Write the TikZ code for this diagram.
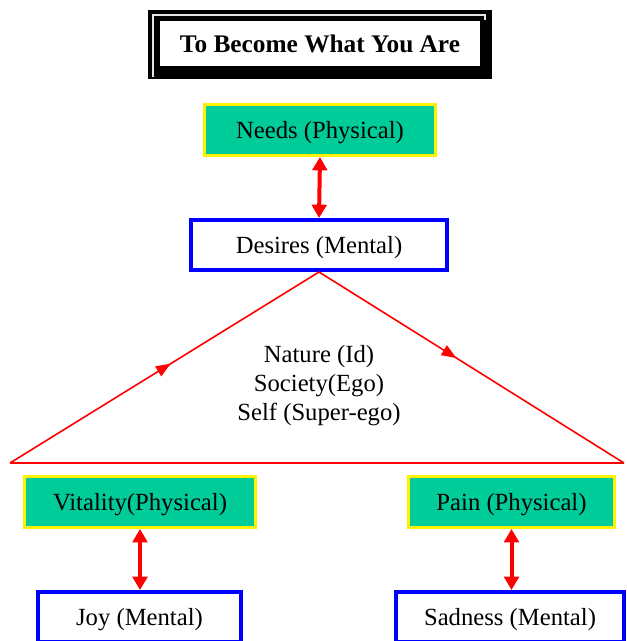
\documentclass[tikz,border=0pt]{standalone}
\usepackage{fontspec}
\setmainfont{Liberation Serif}
\usetikzlibrary{arrows.meta,decorations.markings}
\definecolor{teal1}{RGB}{0,204,153}
\begin{document}
\begin{tikzpicture}[x=0.75pt,y=-0.75pt,
  txt/.style={font=\fontsize{18.5}{22}\selectfont, inner sep=0pt},
  phys/.style={txt, text depth=0pt, draw=yellow, fill=teal1, line width=2.25pt, minimum height=38.25pt},
  ment/.style={txt, text depth=0pt, draw=blue, fill=white, line width=3pt, minimum height=37.5pt},
  dbl/.style={draw=red, line width=3pt, {Triangle[width=11pt,length=10pt]}-{Triangle[width=11pt,length=10pt]}},
  tri/.style={draw=red, line width=1.2pt},
  midarrow/.style={postaction={decorate},decoration={markings,mark=at position #1 with {\arrow{Triangle[width=8.5pt,length=11pt]}}}}
]
\useasboundingbox (0,0) rectangle (626,641);
\clip (0,0) rectangle (626,641);
% title frame
\fill[black] (148,10) rectangle (492,79);
\fill[white] (160,21) rectangle (480,66);
\draw[white!80!gray, line width=0.9pt] (153,77) -- (153,15) -- (485,15) -- (485,20);
\node[font=\bfseries\fontsize{19}{22}\selectfont, inner sep=0pt, text depth=0pt] (title) at (320,44) {To Become What You Are};
% top boxes
\node[phys, minimum width=173.25pt] (needs) at (320,130) {Needs (Physical)};
\node[ment, minimum width=192pt] (desires) at (319,245) {Desires (Mental)};
\draw[dbl] (needs.south) -- (desires.north);
% triangle
\coordinate (apex) at (desires.south);
\coordinate (bl) at (10,463);
\coordinate (br) at (624,463);
\draw[tri, midarrow=0.52] (bl) -- (apex);
\draw[tri, midarrow=0.45] (apex) -- (br);
\draw[red, line width=1.5pt] (bl) -- (br);
\node[txt, align=center, font=\fontsize{18.5}{21.75}\selectfont] (inner) at (319,386) {Nature (Id)\\Society(Ego)\\Self (Super-ego)};
% bottom boxes
\node[phys, minimum width=173.25pt] (vital) at (140,502) {Vitality(Physical)};
\node[phys, minimum width=154.5pt] (pain) at (511.5,502) {Pain (Physical)};
\node[ment, minimum width=152.25pt] (joy) at (139.5,617) {Joy (Mental)};
\node[ment, minimum width=171pt] (sad) at (510,617) {Sadness (Mental)};
\draw[dbl] (vital.south) -- (vital.south |- joy.north);
\draw[dbl] (pain.south) -- (pain.south |- sad.north);
\end{tikzpicture}
\end{document}
